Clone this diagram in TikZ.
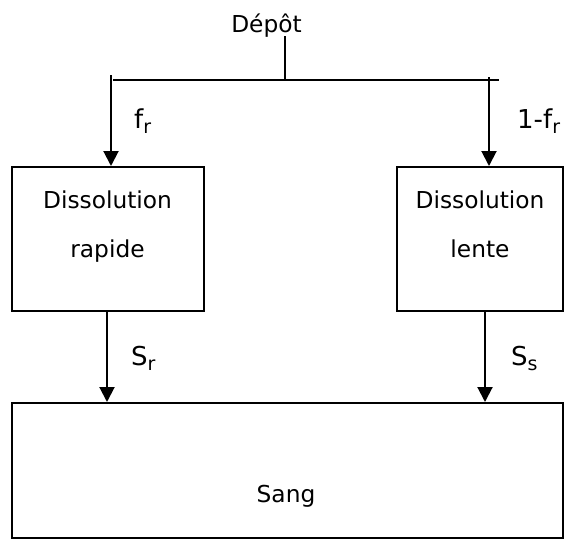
\documentclass[tikz,border=0pt]{standalone}
\usepackage{fontspec}
\setmainfont{DejaVu Sans}
\usetikzlibrary{arrows.meta}
\newcommand{\lowsub}[1]{\raisebox{-5pt}{\fontsize{19}{20}\selectfont #1}}
\begin{document}
\begin{tikzpicture}[x=1pt,y=-1pt,
  box/.style={draw,line width=2pt,inner sep=0pt},
  line/.style={line width=2pt},
  flow/.style={line width=2pt,-{Triangle[length=15pt,width=15pt]}},
  lbl/.style={font=\fontsize{23.3}{27}\selectfont,anchor=base,inner sep=0pt},
  sub/.style={font=\fontsize{26}{30}\selectfont,anchor=base west,inner sep=0pt}]
\useasboundingbox (0,0) rectangle (584,542);
% title and split line
\node[lbl] (depot) at (266.5,32) {Dépôt};
\coordinate (top) at (285,36);
\coordinate (mid) at (285,80);
\coordinate (hl) at (113,80);
\coordinate (hr) at (499,80);
\draw[line] (top) -- (mid);
\draw[line] (hl) -- (hr);
% dissolution compartments
\draw[box] (12,167) rectangle (204,311);
\draw[box] (397,167) rectangle (563,311);
\node[lbl] (drap) at (107.5,208) {Dissolution};
\node[lbl] (rap) at (107.5,257) {rapide};
\node[lbl] (dlen) at (480,208) {Dissolution};
\node[lbl] (len) at (480,257) {lente};
% blood compartment
\draw[box] (12,403) rectangle (563,538);
\node[lbl] (sang) at (286,502) {Sang};
% fractions
\coordinate (a1) at (111,75);
\coordinate (a1e) at (111,166);
\coordinate (a2) at (489,77);
\coordinate (a2e) at (489,166);
\draw[flow] (a1) -- (a1e);
\draw[flow] (a2) -- (a2e);
\node[sub] (fr) at (134,128) {f\lowsub{r}};
\node[sub] (ofr) at (517,128) {1-f\lowsub{r}};
% transfer to blood
\coordinate (b1) at (107,311);
\coordinate (b1e) at (107,402);
\coordinate (b2) at (485,311);
\coordinate (b2e) at (485,402);
\draw[flow] (b1) -- (b1e);
\draw[flow] (b2) -- (b2e);
\node[sub] (sr) at (131,365) {S\lowsub{r}};
\node[sub] (ss) at (511,365) {S\lowsub{s}};
\end{tikzpicture}
\end{document}
